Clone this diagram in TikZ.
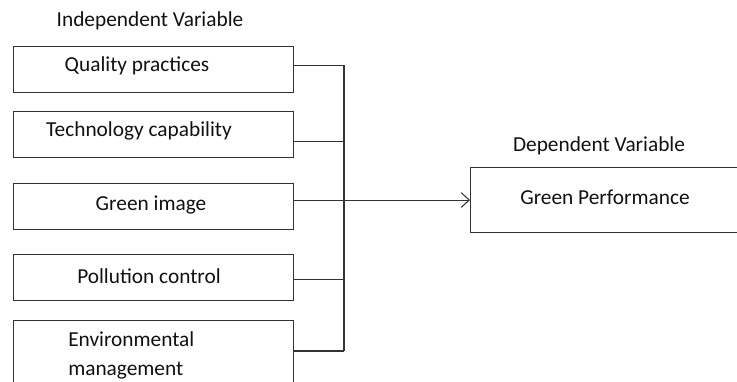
\documentclass[tikz,border=0pt]{standalone}
\usepackage{fontspec}
\setmainfont{Carlito}
\usetikzlibrary{arrows.meta}
\definecolor{ln}{HTML}{333333}
\definecolor{tx}{HTML}{111111}
\begin{document}
\begin{tikzpicture}[x=0.75pt,y=-0.75pt,
  box/.style={draw=ln,line width=0.8pt,minimum width=210pt,minimum height=34.5pt,inner sep=0pt,anchor=north west},
  lbl/.style={text=tx,font=\fontsize{16}{21.75}\selectfont,inner sep=0pt},
  conn/.style={draw=ln,line width=0.8pt}]
\useasboundingbox (0,0) rectangle (737,381);
\clip (0,0) rectangle (737,381);
% left boxes
\node[box] (b1) at (13,46) {};
\node[box] (b2) at (13,111) {};
\node[box] (b3) at (13,183) {};
\node[box] (b4) at (13,254) {};
\node[box,minimum height=52.5pt] (b5) at (13,320) {};
\node[box,minimum width=210pt,minimum height=48.75pt] (gp) at (470,167) {};
% texts
\node[lbl] (ti) at (150,21) {Independent Variable};
\node[lbl] (t1) at (137,66) {Quality practices};
\node[lbl] (t2) at (139,131) {Technology capability};
\node[lbl] (t3) at (151,205) {Green image};
\node[lbl] (t4) at (149,276) {Pollution control};
\node[lbl,align=left,anchor=west] (t5) at (68,355.5) {Environmental\\management};
\node[lbl] (td) at (599,146) {Dependent Variable};
\node[lbl] (tg) at (605,197) {Green Performance};
% bus
\coordinate (bt) at (344,65);
\coordinate (bb) at (344,351);
\draw[conn] ([yshift=3pt]b1.east) -- ([yshift=3pt]b1.east -| bt) -- (bb -| bt);
\draw[conn] ([yshift=-5.25pt]b2.east) -- ([yshift=-5.25pt]b2.east -| bt);
\draw[conn] ([yshift=-1.5pt]b4.east) -- ([yshift=-1.5pt]b4.east -| bt);
\draw[conn] (b5.north east |- bb) -- (bb);
\draw[conn,-{Straight Barb[length=6pt,width=11pt,line width=0.8pt]}] (b3.east |- gp.west) -- (gp.west);
\end{tikzpicture}
\end{document}
